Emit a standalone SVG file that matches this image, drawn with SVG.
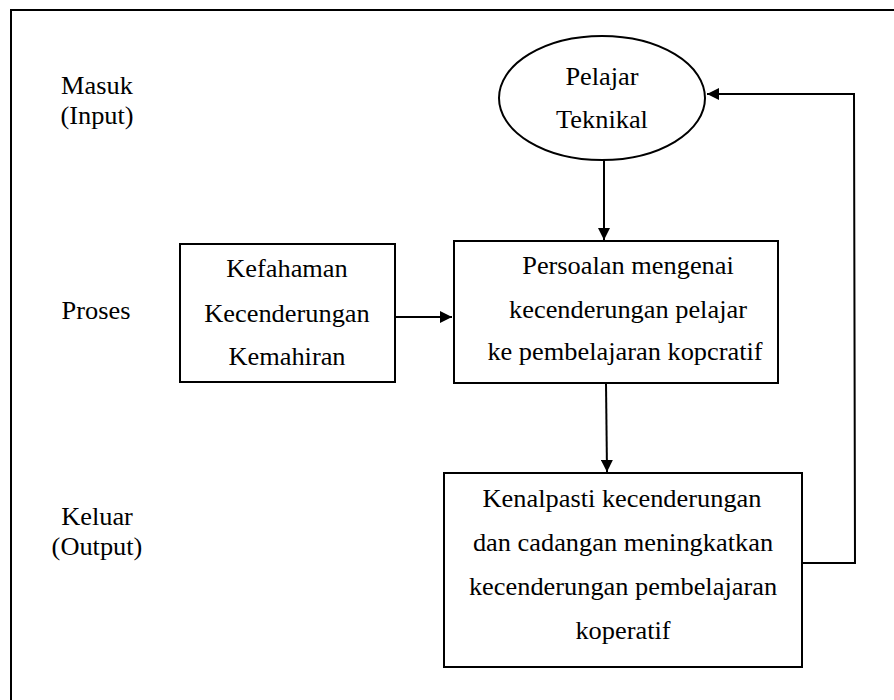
<svg xmlns="http://www.w3.org/2000/svg" width="894" height="700" viewBox="0 0 894 700">
  <defs>
    <marker id="arr" viewBox="0 0 10 10" refX="10" refY="5" markerWidth="12" markerHeight="12" markerUnits="userSpaceOnUse" orient="auto">
      <path d="M0,0 L10,5 L0,10 Z" fill="#000"/>
    </marker>
    <style>
      .t { font-family: "Liberation Serif", "Times New Roman", serif; font-size: 25px; fill: #000; text-anchor: middle; }
      .box { fill: #fff; stroke: #000; stroke-width: 2; }
      .edge { fill: none; stroke: #000; stroke-width: 2; }
    </style>
  </defs>
  <rect x="0" y="0" width="894" height="700" fill="#fff"/>
  <path d="M11,704 L11,10 L900,10" class="edge"/>

  <g id="labels">
    <text class="t" transform="translate(97,94) scale(1.055,1)">Masuk</text>
    <text class="t" transform="translate(97,124) scale(1.055,1)">(Input)</text>
    <text class="t" transform="translate(96,319) scale(1.055,1)">Proses</text>
    <text class="t" transform="translate(97,525) scale(1.055,1)">Keluar</text>
    <text class="t" transform="translate(97,555) scale(1.055,1)">(Output)</text>
  </g>

  <g id="connectors">
    <line x1="604" y1="160" x2="604" y2="240" class="edge" marker-end="url(#arr)"/>
    <line x1="395" y1="317" x2="452" y2="317" class="edge" marker-end="url(#arr)"/>
    <line x1="606" y1="383" x2="607" y2="472" class="edge" marker-end="url(#arr)"/>
    <polyline points="802,563 855,563 854,94 707,94" class="edge" marker-end="url(#arr)"/>
  </g>

  <g id="pelajar">
    <ellipse cx="602" cy="98" rx="103" ry="62" class="box"/>
    <text class="t" transform="translate(602,85) scale(1.055,1)">Pelajar</text>
    <text class="t" transform="translate(602,128) scale(1.055,1)">Teknikal</text>
  </g>

  <g id="faktor">
    <rect x="180" y="244" width="215" height="138" class="box"/>
    <text class="t" transform="translate(287,277) scale(1.055,1)">Kefahaman</text>
    <text class="t" transform="translate(287,322) scale(1.055,1)">Kecenderungan</text>
    <text class="t" transform="translate(287,365) scale(1.055,1)">Kemahiran</text>
  </g>

  <g id="persoalan">
    <rect x="454" y="241" width="324" height="142" class="box"/>
    <text class="t" transform="translate(628,274) scale(1.055,1)">Persoalan mengenai</text>
    <text class="t" transform="translate(628,318) scale(1.055,1)">kecenderungan pelajar</text>
    <text class="t" transform="translate(625,360) scale(1.055,1)">ke pembelajaran kopcratif</text>
  </g>

  <g id="output">
    <rect x="444" y="473" width="358" height="194" class="box"/>
    <text class="t" transform="translate(622,507) scale(1.055,1)">Kenalpasti kecenderungan</text>
    <text class="t" transform="translate(623,551) scale(1.055,1)">dan cadangan meningkatkan</text>
    <text class="t" transform="translate(623,595) scale(1.055,1)">kecenderungan pembelajaran</text>
    <text class="t" transform="translate(623,639) scale(1.055,1)">koperatif</text>
  </g>
</svg>
